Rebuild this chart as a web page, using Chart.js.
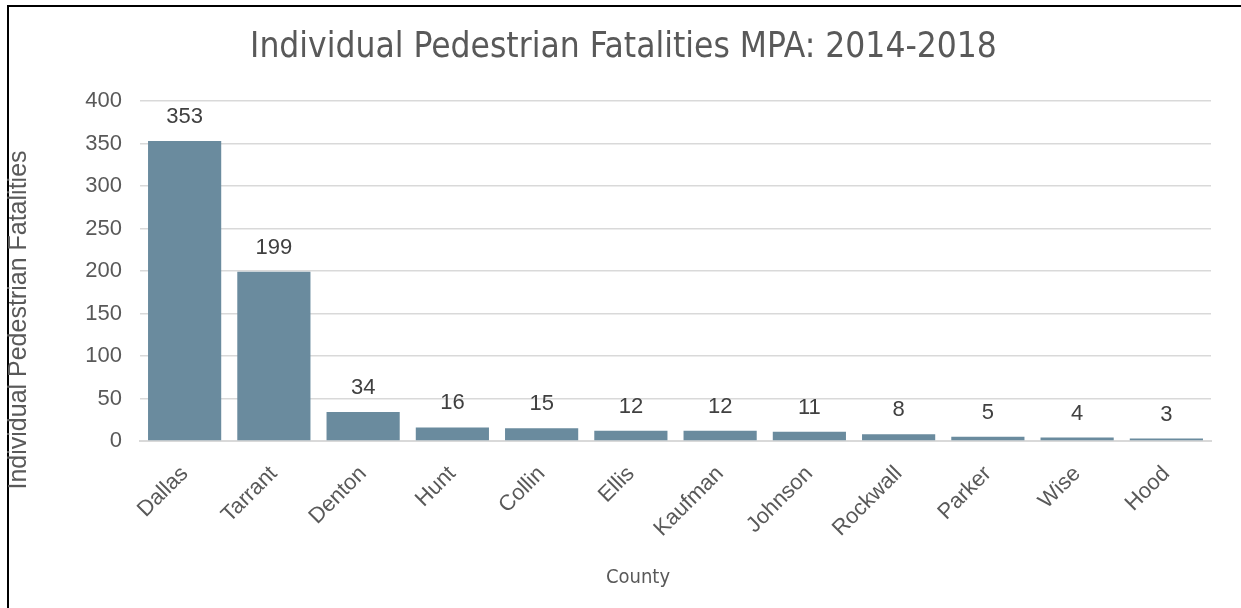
<!DOCTYPE html>
<html>
<head>
<meta charset="utf-8">
<script src="https://cdn.jsdelivr.net/npm/chart.js@4.4.1/dist/chart.umd.min.js"></script>
<style>
  html, body { margin: 0; padding: 0; background: #fff; }
  #wrap { position: relative; width: 1241px; height: 608px; overflow: hidden; }
  #frame { position: absolute; left: 7px; top: 5px; width: 1300px; height: 700px;
           border-top: 2px solid #000; border-left: 2px solid #000; }
  canvas { position: absolute; left: 0; top: 0; }
</style>
</head>
<body>
<div id="wrap">
  <div id="frame"></div>
  <canvas id="chart" width="1241" height="608"></canvas>
</div>
<script>
var counties = ['Dallas', 'Tarrant', 'Denton', 'Hunt', 'Collin', 'Ellis', 'Kaufman', 'Johnson', 'Rockwall', 'Parker', 'Wise', 'Hood'];
var fatalities = [353, 199, 34, 16, 15, 12, 12, 11, 8, 5, 4, 3];
var yTicks = [0, 50, 100, 150, 200, 250, 300, 350, 400];

var chartTitle = 'Individual Pedestrian Fatalities MPA: 2014-2018';
var yTitle = 'Individual Pedestrian Fatalities';
var xTitle = 'County';

var textGrey = '#595959';
var narrowFont = '"DejaVu Sans Condensed", "Liberation Sans Narrow", sans-serif';
var plainFont = '"Liberation Sans", Arial, sans-serif';

// value labels above each bar
var barLabels = {
	id: 'barLabels',
	afterDatasetsDraw: function(chart){
		var ctx = chart.ctx;
		var meta = chart.getDatasetMeta(0);
		ctx.save();
		ctx.font = '22px ' + plainFont;
		ctx.fillStyle = '#404040';
		ctx.textAlign = 'center';
		ctx.textBaseline = 'bottom';
		meta.data.forEach(function(bar, i){
			ctx.fillText(fatalities[i], bar.x, bar.y - 13);
		});
		ctx.restore();
	}
};

// axis titles placed like the excel original
var axisTitles = {
	id: 'axisTitles',
	afterDraw: function(chart){
		var ctx = chart.ctx;
		ctx.save();
		ctx.fillStyle = textGrey;
		ctx.textAlign = 'center';
		ctx.textBaseline = 'middle';
		ctx.font = '20px ' + narrowFont;
		ctx.fillText(xTitle, 638, 578);
		ctx.translate(19, 320);
		ctx.rotate(-Math.PI / 2);
		ctx.font = '25px ' + plainFont;
		ctx.fillText(yTitle, 0, 0);
		ctx.restore();
	}
};

var ctx = document.getElementById('chart');
var myChart = new Chart(ctx, {
	type: 'bar',
	data: {
		labels: counties,
		datasets: [{
			label: 'Fatalities',
			data: fatalities,
			backgroundColor: '#6a8b9e',
			borderWidth: 0,
			categoryPercentage: 1.0,
			barPercentage: 0.82
		}]
	},
	options: {
		responsive: false,
		animation: false,
		layout: {
			padding: { left: 36, right: 30, top: 0, bottom: 0 }
		},
		plugins: {
			legend: { display: false },
			tooltip: { enabled: false },
			title: {
				display: true,
				text: chartTitle,
				color: textGrey,
				font: { family: narrowFont, size: 35, weight: 'normal' },
				padding: { top: 27, bottom: 32 }
			}
		},
		scales: {
			x: {
				grid: { display: false, drawTicks: false },
				border: { display: true, color: '#d9d9d9', width: 2 },
				ticks: {
					color: textGrey,
					font: { family: plainFont, size: 22 },
					minRotation: 45,
					maxRotation: 45,
					padding: 20
				},
				afterFit: function(scale){ scale.height = 167; }
			},
			y: {
				min: 0,
				max: 400,
				afterBuildTicks: function(scale){
					scale.ticks = yTicks.map(function(v){ return { value: v }; });
				},
				grid: { color: '#d9d9d9', lineWidth: 1.5, drawTicks: false },
				border: { display: false },
				ticks: {
					color: textGrey,
					font: { family: plainFont, size: 22 },
					padding: 18
				},
				afterFit: function(scale){ scale.width = 104; }
			}
		}
	},
	plugins: [barLabels, axisTitles]
});
</script>
</body>
</html>
